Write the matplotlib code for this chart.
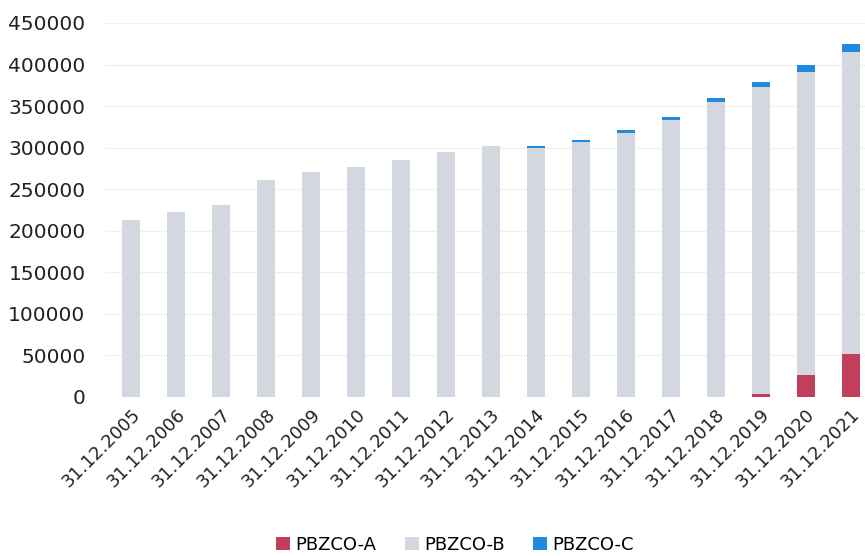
import matplotlib.pyplot as plt
import numpy as np

plt.rcParams['font.family'] = ['DejaVu Sans']

dates = ['31.12.2005', '31.12.2006', '31.12.2007', '31.12.2008', '31.12.2009',
         '31.12.2010', '31.12.2011', '31.12.2012', '31.12.2013', '31.12.2014',
         '31.12.2015', '31.12.2016', '31.12.2017', '31.12.2018', '31.12.2019',
         '31.12.2020', '31.12.2021']
pbzco_a = [0, 0, 0, 0, 0, 0, 0, 0, 0, 0, 0, 0, 0, 0, 4000, 26000, 52000]
pbzco_b = [213000, 222500, 231000, 261000, 270500, 277000, 285000, 295000,
           302000, 299500, 306500, 318000, 333000, 355000, 369000, 365500, 363000]
pbzco_c = [0, 0, 0, 0, 0, 0, 0, 0, 0, 3000, 3000, 3500, 4000, 5000, 6000, 8000, 10000]

x = np.arange(len(dates))
a = np.array(pbzco_a)
b = np.array(pbzco_b)
c = np.array(pbzco_c)

fig = plt.figure(figsize=(8.65, 5.56), dpi=100)
ax = fig.add_axes([105 / 865, 1 - 397 / 556, 760 / 865, 374 / 556])

w = 0.4
ax.bar(x, a, w, color='#c13f5c', label='PBZCO-A', zorder=3)
ax.bar(x, b, w, bottom=a, color='#d3d8e0', label='PBZCO-B', zorder=3)
ax.bar(x, c, w, bottom=a + b, color='#1f8ae0', label='PBZCO-C', zorder=3)

ax.set_xlim(-0.58, 16.32)
ax.set_ylim(0, 450000)
ax.set_yticks(np.arange(0, 450001, 50000))
ax.yaxis.grid(True, color='#f0f0f0', linewidth=1, zorder=0)
ax.set_axisbelow(True)

ax.set_xticks(x)
ax.set_xticklabels(dates, rotation=45, ha='right', rotation_mode='anchor', fontsize=13, color='#222222')
ax.tick_params(axis='y', labelsize=14.5, colors='#222222', length=0, pad=14)
ax.tick_params(axis='x', length=0, pad=6)
for s in ax.spines.values():
    s.set_visible(False)

fig.legend(loc='center', bbox_to_anchor=(455 / 865, 1 - 545 / 556), ncol=3, frameon=False,
           fontsize=13, handlelength=0.75, handleheight=0.75, handletextpad=0.3, columnspacing=1.6)

fig.savefig('out.png', dpi=100)
